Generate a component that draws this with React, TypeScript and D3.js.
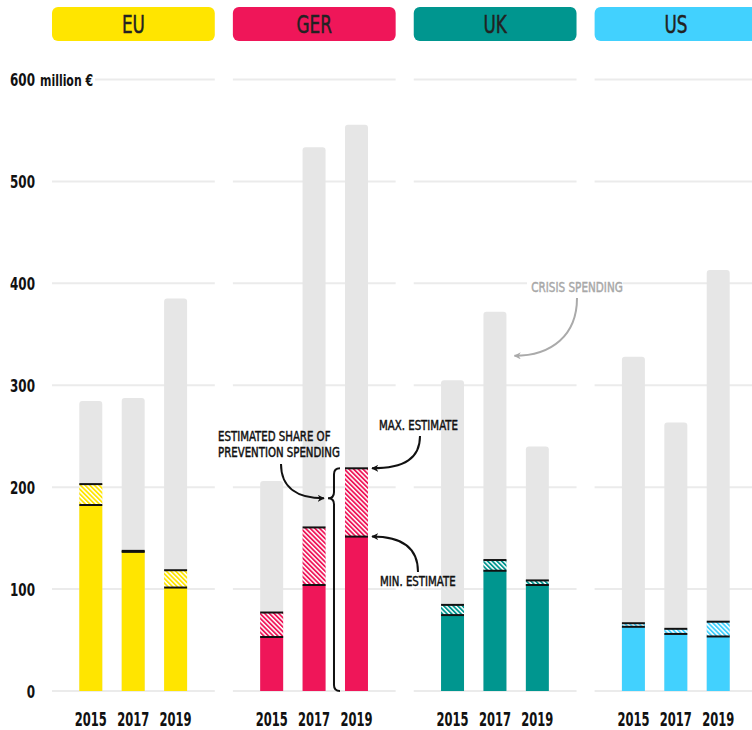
import React from "react";
import * as d3 from "d3";

const countries = ["EU", "GER", "UK", "US"];
const countryColors = ["#FFE500", "#EF1659", "#00968F", "#42D1FE"];
const years = ["2015", "2017", "2019"];

const totalEU = [284.5, 287.5, 385];
const minEU = [182.5, 136.5, 101.5];
const maxEU = [203, 137.5, 118.5];

const totalGER = [206, 533.5, 555.5];
const minGER = [53, 104, 151.5];
const maxGER = [77, 160.5, 218.5];

const totalUK = [305, 372, 240];
const minUK = [74.5, 118, 104];
const maxUK = [84.5, 128.5, 108.5];

const totalUS = [328, 263.5, 413];
const minUS = [63, 56, 53.5];
const maxUS = [66.5, 61, 68];

const yTicks = [0, 100, 200, 300, 400, 500, 600];

const totals = [totalEU, totalGER, totalUK, totalUS];
const mins = [minEU, minGER, minUK, minUS];
const maxs = [maxEU, maxGER, maxUK, maxUS];

const FONT = "'DejaVu Sans Condensed', 'DejaVu Sans', sans-serif";

type CTextProps = {
  x: number;
  y: number;
  sx: number;
  size: number;
  weight?: number | string;
  anchor?: "start" | "middle" | "end";
  fill?: string;
  medium?: boolean;
  children: React.ReactNode;
};

function CText({ x, y, sx, size, weight = "normal", anchor = "start", fill = "#111", medium = false, children }: CTextProps) {
  return (
    <g transform={`translate(${x},${y}) scale(${sx},1)`}>
      <text
        x={0}
        y={0}
        textAnchor={anchor}
        fontSize={size}
        fontWeight={weight}
        fill={fill}
        stroke={medium ? fill : "none"}
        strokeWidth={medium ? 0.45 : 0}
        fontStretch="condensed"
      >
        {children}
      </text>
    </g>
  );
}

export default function App() {
  const W = 752;
  const H = 730;
  const x = d3.scaleBand<string>().domain(countries).range([52, 757.4]).paddingInner(0.1).paddingOuter(0);
  const y = d3.scaleLinear().domain([0, 600]).range([691, 79.5]);
  const bw = x.bandwidth();
  const inner = d3.scaleBand<string>().domain(years).range([27.3, 135.1]).paddingInner(0.458).paddingOuter(0);
  const barW = inner.bandwidth();

  const topRounded = (x0: number, y0: number, w: number, y1: number, r: number) => {
    const p = d3.path();
    p.moveTo(x0, y1);
    p.lineTo(x0, y0 + r);
    p.quadraticCurveTo(x0, y0, x0 + r, y0);
    p.lineTo(x0 + w - r, y0);
    p.quadraticCurveTo(x0 + w, y0, x0 + w, y0 + r);
    p.lineTo(x0 + w, y1);
    p.closePath();
    return p.toString();
  };

  const gerX = x("GER")!;
  const ger19x = gerX + inner("2019")!;
  const braceX = ger19x - 11;
  const braceTop = y(maxGER[2]);
  const braceBot = y(0);
  const braceMid = braceTop + 30;

  const bracePath = `M${braceX + 6},${braceTop} Q${braceX},${braceTop} ${braceX},${braceTop + 6} L${braceX},${braceMid - 6} Q${braceX},${braceMid} ${braceX - 6},${braceMid} Q${braceX},${braceMid} ${braceX},${braceMid + 6} L${braceX},${braceBot - 6} Q${braceX},${braceBot} ${braceX + 6},${braceBot}`;

  const maxY = y(maxGER[2]);
  const minY = y(minGER[2]);
  const endX = ger19x + barW + 4;

  const ukX = x("UK")!;
  const uk17x = ukX + inner("2017")!;

  return (
    <svg width={W} height={H} style={{ display: "block", position: "absolute", left: 0, top: 0 }} fontFamily={FONT}>
      <defs>
        {countries.map((c, i) => (
          <pattern key={c} id={`hatch-${c}`} patternUnits="userSpaceOnUse" width={3.3} height={3.3} patternTransform="rotate(-45)">
            <rect width={3.3} height={3.3} fill="#fff" />
            <rect width={1.8} height={3.3} fill={countryColors[i]} />
          </pattern>
        ))}
        <marker id="arrowBlack" viewBox="0 0 10 10" refX={9} refY={5} markerWidth={7} markerHeight={7} orient="auto" markerUnits="userSpaceOnUse">
          <path d="M0,0 L10,5 L0,10 L3,5 z" fill="#111" />
        </marker>
        <marker id="arrowGray" viewBox="0 0 10 10" refX={9} refY={5} markerWidth={7} markerHeight={7} orient="auto" markerUnits="userSpaceOnUse">
          <path d="M0,0 L10,5 L0,10 L3,5 z" fill="#aaa" />
        </marker>
      </defs>
      <rect width={W} height={H} fill="#fff" />

      {countries.map((c) =>
        yTicks.map((t) => (
          <line
            key={c + t}
            x1={c === "EU" && t === 600 ? 95 : x(c)!}
            x2={x(c)! + bw}
            y1={y(t)}
            y2={y(t)}
            stroke="#EBEBEB"
            strokeWidth={2}
          />
        ))
      )}

      {yTicks.map((t) => (
        <CText key={t} x={35} y={y(t) + 6.5} sx={0.74} size={18} weight={700} anchor="end">
          {t}
        </CText>
      ))}
      <CText x={40} y={y(600) + 6.5} sx={0.76} size={16} weight={700}>million €</CText>

      {countries.map((c, i) => (
        <g key={c}>
          <rect x={x(c)} y={7} width={bw} height={34} rx={6} fill={countryColors[i]} />
          <CText x={x(c)! + bw / 2} y={33} sx={0.78} size={24} anchor="middle" fill="#222" medium>
            {c}
          </CText>
        </g>
      ))}

      <rect x={527} y={y(400) - 4} width={96} height={8} fill="#fff" />

      {countries.map((c, ci) =>
        years.map((yr, yi) => {
          const bx = x(c)! + inner(yr)!;
          const tot = totals[ci][yi];
          const mn = mins[ci][yi];
          const mx = maxs[ci][yi];
          return (
            <g key={c + yr}>
              <path d={topRounded(bx, y(tot), barW, y(0), 3)} fill="#E6E6E6" />
              <rect x={bx} y={y(mx)} width={barW} height={y(mn) - y(mx)} fill={`url(#hatch-${c})`} />
              <rect x={bx} y={y(mn)} width={barW} height={y(0) - y(mn)} fill={countryColors[ci]} />
              <line x1={bx} x2={bx + barW} y1={y(mx)} y2={y(mx)} stroke="#111" strokeWidth={2} />
              <line x1={bx} x2={bx + barW} y1={y(mn)} y2={y(mn)} stroke="#111" strokeWidth={2} />
            </g>
          );
        })
      )}

      {countries.map((c) =>
        years.map((yr) => (
          <CText key={c + yr} x={x(c)! + inner(yr)! + barW / 2} y={726} sx={0.64} size={20} weight={700} anchor="middle">
            {yr}
          </CText>
        ))
      )}

      <path d={bracePath} fill="none" stroke="#111" strokeWidth={2} />
      <CText x={218} y={441} sx={0.84} size={13.5} medium>ESTIMATED SHARE OF</CText>
      <CText x={218} y={457} sx={0.84} size={13.5} medium>PREVENTION SPENDING</CText>
      <path d={`M281,464 C281,488 298,${braceMid} ${braceX - 10},${braceMid}`} fill="none" stroke="#111" strokeWidth={2} markerEnd="url(#arrowBlack)" />

      <CText x={379} y={430} sx={0.84} size={13.5} medium>MAX. ESTIMATE</CText>
      <path d={`M420,436 C420,458 405,${maxY} ${endX},${maxY}`} fill="none" stroke="#111" strokeWidth={2} markerEnd="url(#arrowBlack)" />

      <CText x={380} y={586} sx={0.84} size={13.5} medium>MIN. ESTIMATE</CText>
      <path d={`M418,572 C418,550 405,${minY} ${endX},${minY}`} fill="none" stroke="#111" strokeWidth={2} markerEnd="url(#arrowBlack)" />

      <CText x={577} y={292} sx={0.8} size={14.5} anchor="middle" fill="#A8A8A8" medium>CRISIS SPENDING</CText>
      <path d={`M577,298 C577,335 552,${y(totalUK[1]) + 44} ${uk17x + barW + 8},${y(totalUK[1]) + 44}`} fill="none" stroke="#AAAAAA" strokeWidth={2} markerEnd="url(#arrowGray)" />
    </svg>
  );
}
